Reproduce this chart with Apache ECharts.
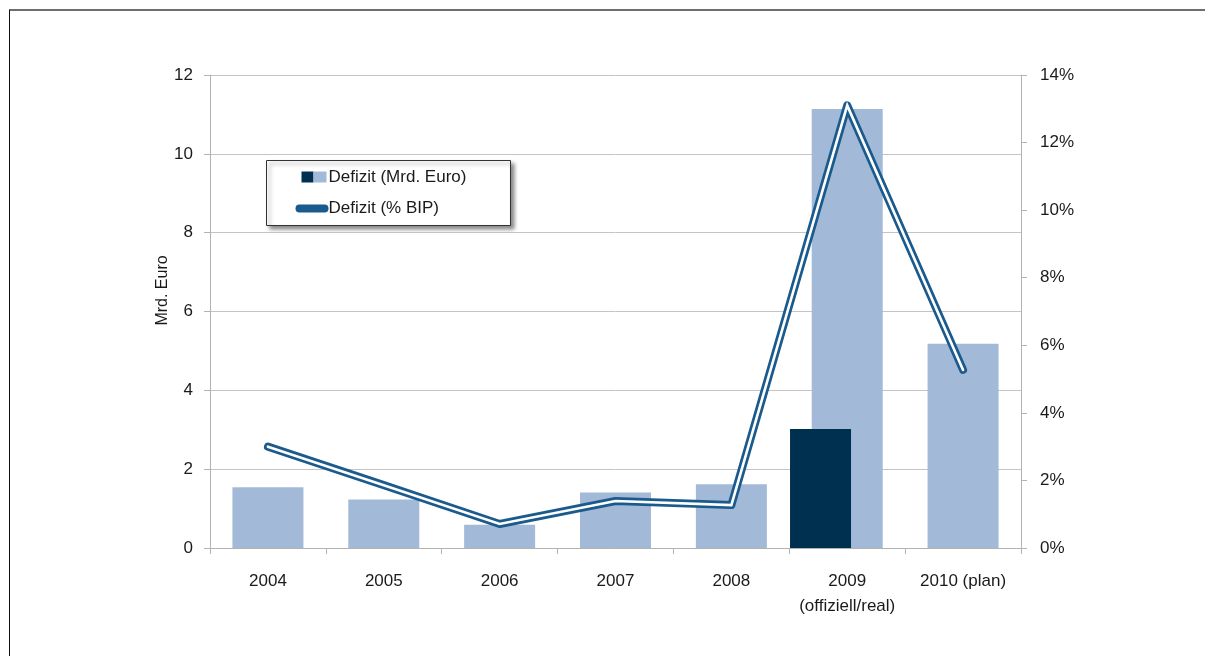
<!DOCTYPE html>
<html>
<head>
<meta charset="utf-8">
<script src="https://cdn.jsdelivr.net/npm/echarts@6/dist/echarts.min.js"></script>
<style>
html,body{margin:0;padding:0;background:#fff;}
#frame{position:absolute;left:9px;top:9px;width:1196px;height:647px;border-top:2px solid #6e6e6e;border-left:1px solid #111;box-sizing:border-box;}
#chart{position:absolute;left:0;top:0;width:1207px;height:656px;}
</style>
</head>
<body>
<div id="frame"></div>
<div id="chart"></div>
<script>
const categories = ['2004', '2005', '2006', '2007', '2008', '2009\n(offiziell/real)', '2010 (plan)'];
const deficitBn = [1.54, 1.23, 0.59, 1.41, 1.62, 11.14, 5.18];
const deficitBnOfficial = [null, null, null, null, null, 3.02, null];
const deficitPctGdp = [3.0, 1.86, 0.71, 1.39, 1.27, 13.1, 5.27];
const leftTicks = [0, 12, 2];
const rightTicks = [0, 14, 2];

const FONT = 'Liberation Sans';
const TXT = '#1a1a1a';
const DARK = '#00304f';
const LIGHT = '#a2b9d8';
const LINE = '#1b5a8c';

const chart = echarts.init(document.getElementById('chart'));
chart.setOption({
  animation: false,
  textStyle: { fontFamily: FONT },
  grid: { left: 210, right: 186, top: 75, height: 473 },
  xAxis: [
    {
      type: 'category', data: categories, gridIndex: 0,
      axisLine: { lineStyle: { color: '#b3b3b3', width: 1 } },
      axisTick: { show: true, length: 6, interval: 0, lineStyle: { color: '#b3b3b3' } },
      axisLabel: { interval: 0, margin: 21, color: TXT, fontSize: 17, lineHeight: 25, fontFamily: FONT }
    },
    {
      type: 'category', data: categories, gridIndex: 0, show: false
    }
  ],
  yAxis: [
    {
      type: 'value', min: leftTicks[0], max: leftTicks[1], interval: leftTicks[2],
      name: 'Mrd. Euro', nameLocation: 'middle', nameGap: 39, nameRotate: 90,
      nameMoveOverlap: false,
      nameTextStyle: { color: TXT, fontSize: 16, fontFamily: FONT, padding: [0, 0, 0, 42] },
      axisLine: { show: true, lineStyle: { color: '#b3b3b3' } },
      axisTick: { show: true, length: 6, lineStyle: { color: '#b3b3b3' } },
      axisLabel: { margin: 17, color: TXT, fontSize: 17, fontFamily: FONT },
      splitLine: { lineStyle: { color: '#c4c4c4', width: 1 } }
    },
    {
      type: 'value', min: rightTicks[0], max: rightTicks[1], interval: rightTicks[2],
      position: 'right',
      axisLine: { show: true, lineStyle: { color: '#b3b3b3' } },
      axisTick: { show: true, length: 6, lineStyle: { color: '#b3b3b3' } },
      axisLabel: { margin: 19, color: TXT, fontSize: 17, fontFamily: FONT, formatter: '{value}%' },
      splitLine: { show: false }
    }
  ],
  series: [
    {
      name: 'Defizit (Mrd. Euro)', type: 'bar', xAxisIndex: 0, yAxisIndex: 0,
      data: deficitBn, barWidth: 71, itemStyle: { color: LIGHT }
    },
    {
      name: 'Defizit (Mrd. Euro) offiziell', type: 'bar', xAxisIndex: 1, yAxisIndex: 0,
      data: deficitBnOfficial, barWidth: 61, barGap: '-12.5%', itemStyle: { color: DARK }, z: 3
    },
    {
      name: 'spacer', type: 'bar', xAxisIndex: 1, yAxisIndex: 0,
      data: [null, null, null, null, null, null, null], barWidth: 61, barGap: '-12.5%',
      itemStyle: { color: 'rgba(0,0,0,0)' }
    },
    {
      name: 'Defizit (% BIP)', type: 'line', xAxisIndex: 0, yAxisIndex: 1,
      data: deficitPctGdp, symbol: 'none', z: 5,
      lineStyle: { color: LINE, width: 8, cap: 'round', join: 'round' }
    },
    {
      name: 'Defizit (% BIP) inner', type: 'line', xAxisIndex: 0, yAxisIndex: 1,
      data: deficitPctGdp, symbol: 'none', z: 6,
      lineStyle: { color: '#ffffff', width: 2.6, cap: 'round', join: 'miter' }
    }
  ],
  graphic: [
    {
      type: 'group', left: 266, top: 160,
      children: [
        { type: 'rect', shape: { x: 0, y: 0, width: 244, height: 65 },
          style: { fill: '#fff', stroke: '#333', lineWidth: 1, shadowBlur: 4, shadowOffsetX: 3, shadowOffsetY: 3, shadowColor: 'rgba(0,0,0,0.45)' } },
        { type: 'rect', shape: { x: 35, y: 11, width: 12, height: 11 }, style: { fill: DARK } },
        { type: 'rect', shape: { x: 47, y: 11, width: 13, height: 11 }, style: { fill: LIGHT } },
        { type: 'text', x: 62, y: 17, style: { text: 'Defizit (Mrd. Euro)', fill: TXT, font: '17px "Liberation Sans"', verticalAlign: 'middle' } },
        { type: 'line', shape: { x1: 33, y1: 48, x2: 58, y2: 48 }, style: { stroke: LINE, lineWidth: 8, lineCap: 'round' } },
        { type: 'text', x: 62, y: 48, style: { text: 'Defizit (% BIP)', fill: TXT, font: '17px "Liberation Sans"', verticalAlign: 'middle' } }
      ]
    }
  ]
});
</script>
</body>
</html>
